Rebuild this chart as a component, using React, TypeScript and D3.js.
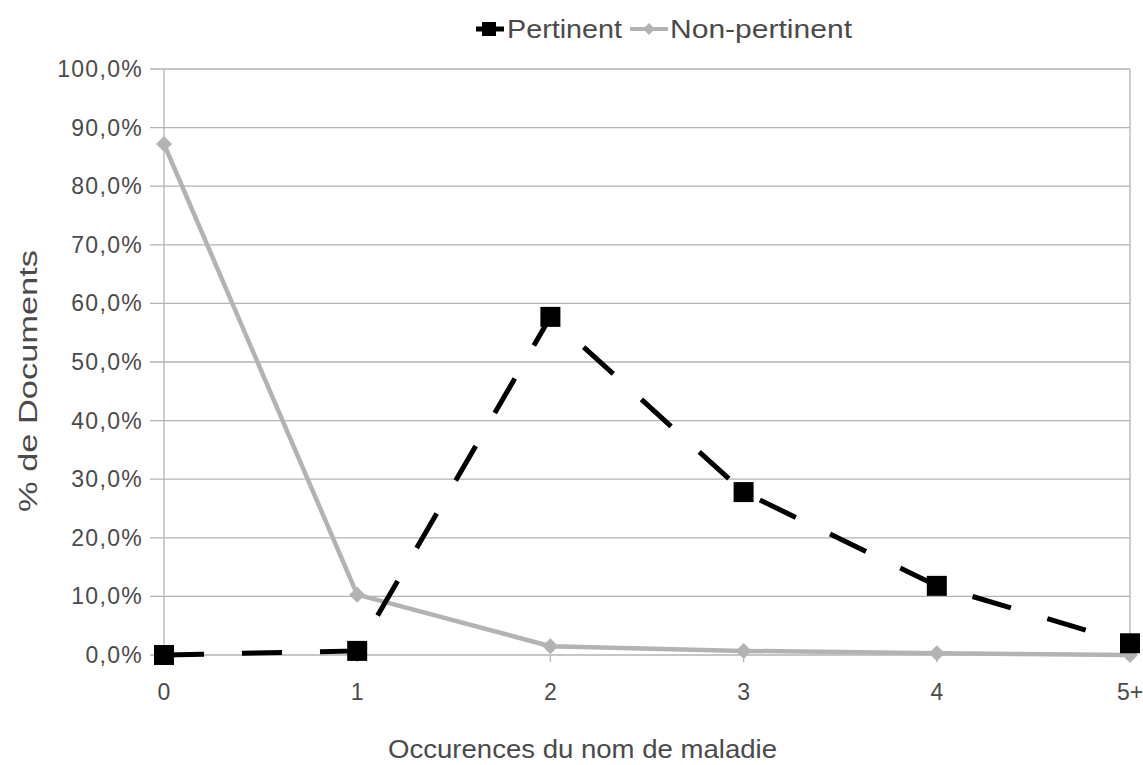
import React from "react";
import * as d3 from "d3";

const categories = ["0", "1", "2", "3", "4", "5+"];
const pertinent = [0.0, 0.7, 57.7, 27.8, 11.8, 2.0];
const nonPertinent = [87.2, 10.3, 1.5, 0.7, 0.3, 0.0];
const yTicks = [0, 10, 20, 30, 40, 50, 60, 70, 80, 90, 100];
const seriesNames = ["Pertinent", "Non-pertinent"];

const W = 1143;
const H = 765;
const FONT = "'Liberation Sans', Arial, sans-serif";
const TEXT = "#4a4a4a";
const GRID = "#b3b3b3";
const GREY = "#b3b3b3";

export default function App() {
  const x = d3.scalePoint<string>().domain(categories).range([164, 1130]);
  const y = d3.scaleLinear().domain([0, 100]).range([655, 69]);
  const fmt = (v: number) => v.toFixed(1).replace(".", ",") + "%";

  const line = d3
    .line<number>()
    .x((_, i) => x(categories[i]) as number)
    .y((d) => y(d));

  const diamond = (cx: number, cy: number, r: number) =>
    `M${cx},${cy - r}L${cx + r},${cy}L${cx},${cy + r}L${cx - r},${cy}Z`;

  return (
    <svg
      width={W}
      height={H}
      style={{ position: "absolute", left: 0, top: 0, background: "#fff" }}
      fontFamily={FONT}
    >
      <rect x={0} y={0} width={W} height={H} fill="#fff" />
      {/* grid */}
      {yTicks.map((t) => (
        <line key={t} x1={150} x2={1130} y1={y(t)} y2={y(t)} stroke={GRID} strokeWidth={1.3} />
      ))}
      <line x1={164} x2={164} y1={y(100)} y2={y(0) + 7} stroke={GRID} strokeWidth={1.3} />
      <line x1={1130} x2={1130} y1={y(100)} y2={y(0) + 7} stroke={GRID} strokeWidth={1.3} />
      {categories.map((c) => (
        <line key={c} x1={x(c)} x2={x(c)} y1={y(0)} y2={y(0) + 7} stroke={GRID} strokeWidth={1.3} />
      ))}
      {/* y labels */}
      {yTicks.map((t) => (
        <text key={t} x={143} y={y(t)} dy="0.35em" textAnchor="end" fontSize={23} letterSpacing={1.3} fill={TEXT}>
          {fmt(t)}
        </text>
      ))}
      {/* x labels */}
      {categories.map((c) => (
        <text key={c} x={x(c)} y={700} textAnchor="middle" fontSize={23} fill={TEXT}>
          {c}
        </text>
      ))}
      {/* axis titles */}
      <text x={388} y={758} fontSize={26} fill={TEXT} textLength={389} lengthAdjust="spacingAndGlyphs">
        Occurences du nom de maladie
      </text>
      <text
        transform={`translate(37,512) rotate(-90)`}
        fontSize={26}
        fill={TEXT}
        textLength={262}
        lengthAdjust="spacingAndGlyphs"
      >
        % de Documents
      </text>
      {/* non-pertinent */}
      <path d={line(nonPertinent) || ""} fill="none" stroke={GREY} strokeWidth={4.5} strokeLinejoin="round" />
      {nonPertinent.map((v, i) => (
        <path key={i} d={diamond(x(categories[i]) as number, y(v), 8)} fill={GREY} />
      ))}
      {/* pertinent */}
      <path d={line(pertinent) || ""} fill="none" stroke="#000" strokeWidth={5} strokeDasharray="40,38" />
      {pertinent.map((v, i) => (
        <rect key={i} x={(x(categories[i]) as number) - 10} y={y(v) - 10} width={20} height={20} fill="#000" />
      ))}
      {/* legend */}
      <g>
        <line x1={476} x2={504} y1={29} y2={29} stroke="#000" strokeWidth={5} />
        <rect x={482} y={22} width={14} height={14} fill="#000" />
        <text x={507} y={29} dy="0.35em" fontSize={26} fill={TEXT} textLength={115} lengthAdjust="spacingAndGlyphs">
          {seriesNames[0]}
        </text>
        <line x1={630} x2={668} y1={29} y2={29} stroke={GREY} strokeWidth={4} />
        <path d={diamond(649, 29, 6)} fill={GREY} />
        <text x={670} y={29} dy="0.35em" fontSize={26} fill={TEXT} textLength={182} lengthAdjust="spacingAndGlyphs">
          {seriesNames[1]}
        </text>
      </g>
    </svg>
  );
}
